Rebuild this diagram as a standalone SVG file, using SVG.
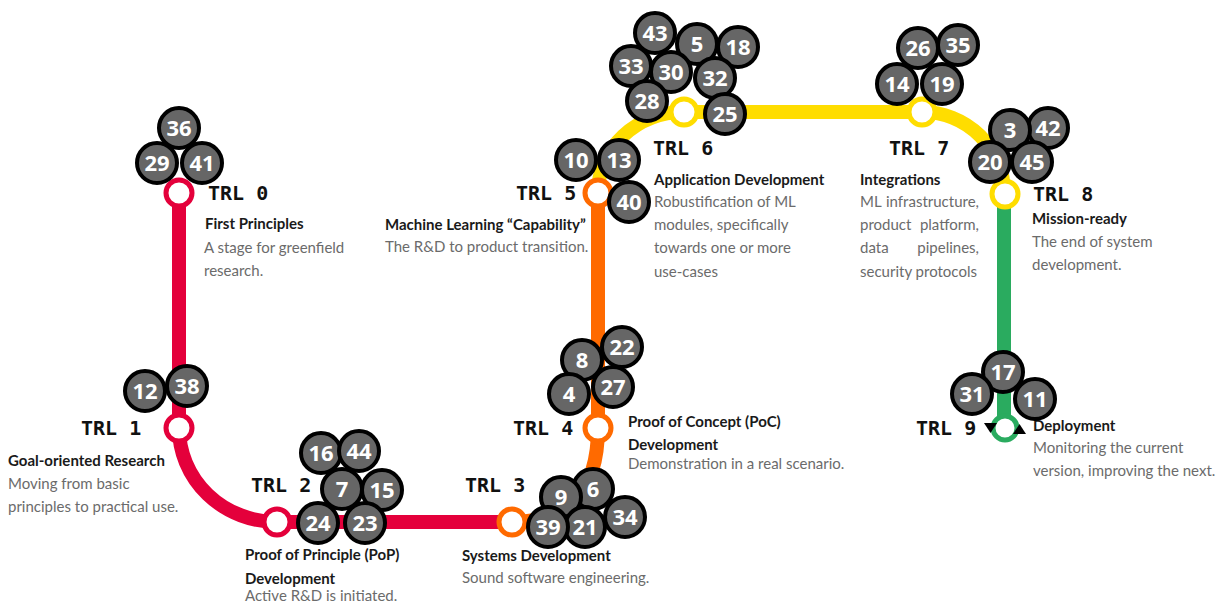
<svg xmlns="http://www.w3.org/2000/svg" width="1217" height="605" viewBox="0 0 1217 605">
<style>
.trk{fill:none;stroke-width:14;stroke-linecap:butt}
.red{stroke:#e4003b}.org{stroke:#ff6a00}.yel{stroke:#ffdd00}.grn{stroke:#2aab5f}
.st{fill:#fff;stroke-width:5}
.bd circle{fill:#666;stroke:#000;stroke-width:4}
.bd text{fill:#fff;font-family:"Open Sans","DejaVu Sans",sans-serif;font-weight:700;font-size:22px;text-anchor:middle}
.trl{font-family:"DejaVu Sans Mono",monospace;font-weight:700;font-size:20px;fill:#111}
.ttl{font-family:Lato,"Noto Sans",sans-serif;font-weight:700;font-size:15px;fill:#1a1a1a}
.dsc{font-family:Lato,"Noto Sans",sans-serif;font-size:15px;fill:#6b6b6b}
</style>
<rect width="1217" height="605" fill="#fff"/>
<g id="connectors">
<path class="trk red" d="M179,193 V428 A98,94 0 0 0 277,522 H512"/>
<path class="trk org" d="M512,522 C565,522 598,495 598,428 V193"/>
<path class="trk yel" d="M598,193 A86,81 0 0 1 684,112 H922 A82,81 0 0 1 1004,193"/>
<path class="trk grn" d="M1004,193 V418"/>
<circle cx="1005" cy="428" r="12" fill="none" stroke="#2aab5f" stroke-width="5"/>
</g>
<g id="trl0">
<circle class="st" cx="179" cy="193" r="13" stroke="#e4003b"/>
<text class="trl" x="208" y="200">TRL 0</text>
<text class="ttl" x="205" y="229">First Principles</text>
<text class="dsc" x="204" y="253">A stage for greenfield</text>
<text class="dsc" x="204" y="276">research.</text>
</g>
<g id="trl1">
<circle class="st" cx="179" cy="428" r="13" stroke="#e4003b"/>
<text class="trl" x="81" y="435">TRL 1</text>
<text class="ttl" x="8" y="466">Goal-oriented Research</text>
<text class="dsc" x="8" y="489">Moving from basic</text>
<text class="dsc" x="8" y="512">principles to practical use.</text>
</g>
<g id="trl2">
<circle class="st" cx="277" cy="522" r="13" stroke="#e4003b"/>
<text class="trl" x="251" y="492">TRL 2</text>
<text class="ttl" x="245" y="560">Proof of Principle (PoP)</text>
<text class="ttl" x="245" y="584">Development</text>
<text class="dsc" x="245" y="601">Active R&amp;D is initiated.</text>
</g>
<g id="trl3">
<circle class="st" cx="512" cy="522" r="13" stroke="#ff6a00"/>
<text class="trl" x="465" y="492">TRL 3</text>
<text class="ttl" x="462" y="561">Systems Development</text>
<text class="dsc" x="462" y="583">Sound software engineering.</text>
</g>
<g id="trl4">
<circle class="st" cx="598" cy="428" r="13" stroke="#ff6a00"/>
<text class="trl" x="513" y="435">TRL 4</text>
<text class="ttl" x="628" y="427">Proof of Concept (PoC)</text>
<text class="ttl" x="628" y="450">Development</text>
<text class="dsc" x="628" y="469">Demonstration in a real scenario.</text>
</g>
<g id="trl5">
<circle class="st" cx="598" cy="193" r="13" stroke="#ff6a00"/>
<text class="trl" x="516" y="200">TRL 5</text>
<text class="ttl" x="385" y="230">Machine Learning “Capability”</text>
<text class="dsc" x="385" y="252">The R&amp;D to product transition.</text>
</g>
<g id="trl6">
<circle class="st" cx="684" cy="112" r="13" stroke="#ffdd00"/>
<text class="trl" x="653" y="155">TRL 6</text>
<text class="ttl" x="654" y="185">Application Development</text>
<text class="dsc" x="654" y="207">Robustification of ML</text>
<text class="dsc" x="654" y="230">modules, specifically</text>
<text class="dsc" x="654" y="253">towards one or more</text>
<text class="dsc" x="654" y="277">use-cases</text>
</g>
<g id="trl7">
<circle class="st" cx="922" cy="112" r="13" stroke="#ffdd00"/>
<text class="trl" x="889" y="155">TRL 7</text>
<text class="ttl" x="860" y="185">Integrations</text>
<text class="dsc" x="860" y="207">ML</text>
<text class="dsc" x="979" y="207" text-anchor="end">infrastructure,</text>
<text class="dsc" x="860" y="230">product</text>
<text class="dsc" x="979" y="230" text-anchor="end">platform,</text>
<text class="dsc" x="860" y="253">data</text>
<text class="dsc" x="979" y="253" text-anchor="end">pipelines,</text>
<text class="dsc" x="860" y="277">security protocols</text>
</g>
<g id="trl8">
<circle class="st" cx="1005" cy="194" r="13" stroke="#ffdd00"/>
<text class="trl" x="1033" y="201">TRL 8</text>
<text class="ttl" x="1032" y="224">Mission-ready</text>
<text class="dsc" x="1032" y="247">The end of system</text>
<text class="dsc" x="1032" y="270">development.</text>
</g>
<g id="trl9">
<text class="trl" x="916" y="435">TRL 9</text>
<text class="ttl" x="1033" y="431">Deployment</text>
<text class="dsc" x="1033" y="453">Monitoring the current</text>
<text class="dsc" x="1033" y="476">version, improving the next.</text>
</g>
<g id="badges">
<g class="bd" id="b36"><circle cx="179" cy="128" r="20"/><text x="179" y="136">36</text></g>
<g class="bd" id="b29"><circle cx="157" cy="163" r="20"/><text x="157" y="171">29</text></g>
<g class="bd" id="b41"><circle cx="202" cy="163" r="20"/><text x="202" y="171">41</text></g>
<g class="bd" id="b12"><circle cx="145" cy="391" r="20"/><text x="145" y="399">12</text></g>
<g class="bd" id="b38"><circle cx="187" cy="386" r="20"/><text x="187" y="394">38</text></g>
<g class="bd" id="b16"><circle cx="321" cy="453" r="20"/><text x="321" y="461">16</text></g>
<g class="bd" id="b44"><circle cx="359" cy="451" r="20"/><text x="359" y="459">44</text></g>
<g class="bd" id="b7"><circle cx="342" cy="489" r="20"/><text x="342" y="497">7</text></g>
<g class="bd" id="b15"><circle cx="382" cy="490" r="20"/><text x="382" y="498">15</text></g>
<g class="bd" id="b24"><circle cx="318" cy="523" r="20"/><text x="318" y="531">24</text></g>
<g class="bd" id="b23"><circle cx="365" cy="523" r="20"/><text x="365" y="531">23</text></g>
<g class="bd" id="b6"><circle cx="593" cy="489" r="20"/><text x="593" y="497">6</text></g>
<g class="bd" id="b9"><circle cx="561" cy="497" r="20"/><text x="561" y="505">9</text></g>
<g class="bd" id="b34"><circle cx="625" cy="517" r="20"/><text x="625" y="525">34</text></g>
<g class="bd" id="b21"><circle cx="585" cy="527" r="20"/><text x="585" y="535">21</text></g>
<g class="bd" id="b39"><circle cx="548" cy="527" r="20"/><text x="548" y="535">39</text></g>
<g class="bd" id="b22"><circle cx="622" cy="347" r="20"/><text x="622" y="355">22</text></g>
<g class="bd" id="b8"><circle cx="582" cy="360" r="20"/><text x="582" y="368">8</text></g>
<g class="bd" id="b27"><circle cx="613" cy="387" r="20"/><text x="613" y="395">27</text></g>
<g class="bd" id="b4"><circle cx="569" cy="394" r="20"/><text x="569" y="402">4</text></g>
<g class="bd" id="b10"><circle cx="576" cy="160" r="20"/><text x="576" y="168">10</text></g>
<g class="bd" id="b13"><circle cx="619" cy="160" r="20"/><text x="619" y="168">13</text></g>
<g class="bd" id="b40"><circle cx="629" cy="202" r="20"/><text x="629" y="210">40</text></g>
<g class="bd" id="b43"><circle cx="655" cy="33" r="20"/><text x="655" y="41">43</text></g>
<g class="bd" id="b5"><circle cx="697" cy="44" r="20"/><text x="697" y="52">5</text></g>
<g class="bd" id="b18"><circle cx="738" cy="47" r="20"/><text x="738" y="55">18</text></g>
<g class="bd" id="b33"><circle cx="631" cy="66" r="20"/><text x="631" y="74">33</text></g>
<g class="bd" id="b30"><circle cx="671" cy="72" r="20"/><text x="671" y="80">30</text></g>
<g class="bd" id="b32"><circle cx="715" cy="78" r="20"/><text x="715" y="86">32</text></g>
<g class="bd" id="b28"><circle cx="647" cy="101" r="20"/><text x="647" y="109">28</text></g>
<g class="bd" id="b25"><circle cx="725" cy="114" r="20"/><text x="725" y="122">25</text></g>
<g class="bd" id="b26"><circle cx="918" cy="48" r="20"/><text x="918" y="56">26</text></g>
<g class="bd" id="b35"><circle cx="958" cy="45" r="20"/><text x="958" y="53">35</text></g>
<g class="bd" id="b14"><circle cx="897" cy="84" r="20"/><text x="897" y="92">14</text></g>
<g class="bd" id="b19"><circle cx="942" cy="84" r="20"/><text x="942" y="92">19</text></g>
<g class="bd" id="b42"><circle cx="1048" cy="128" r="20"/><text x="1048" y="136">42</text></g>
<g class="bd" id="b3"><circle cx="1010" cy="130" r="20"/><text x="1010" y="138">3</text></g>
<g class="bd" id="b20"><circle cx="990" cy="162" r="20"/><text x="990" y="170">20</text></g>
<g class="bd" id="b45"><circle cx="1032" cy="162" r="20"/><text x="1032" y="170">45</text></g>
<g class="bd" id="b17"><circle cx="1003" cy="372" r="20"/><text x="1003" y="380">17</text></g>
<g class="bd" id="b31"><circle cx="972" cy="394" r="20"/><text x="972" y="402">31</text></g>
<g class="bd" id="b11"><circle cx="1035" cy="399" r="20"/><text x="1035" y="407">11</text></g>
</g>
<g id="loop-arrows">
<path d="M984,423 L997,423 L990.5,433 Z" fill="#000"/>
<path d="M1013,434 L1026,434 L1019.5,424 Z" fill="#000"/>
</g>
</svg>
